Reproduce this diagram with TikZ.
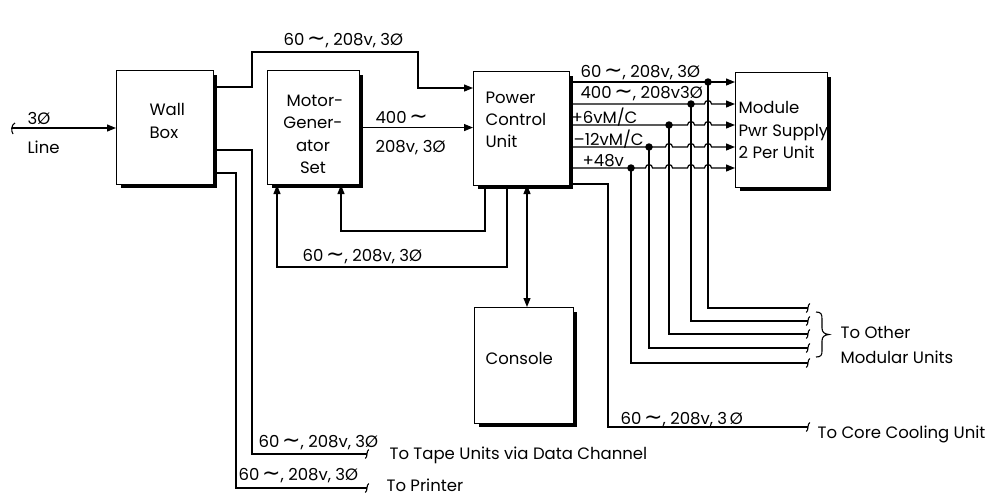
\documentclass[tikz,border=0pt]{standalone}
\usepackage{fontspec}
\setmainfont{Poppins}
\newfontfamily\symf{DejaVu Sans}
\usetikzlibrary{arrows.meta}
\newcommand{\cy}{\raisebox{-0.5pt}{\symf\fontsize{22}{22}\selectfont ∼}}
\begin{document}
\begin{tikzpicture}[x=1pt,y=-1pt,line width=1.2pt,
  >={Triangle[length=9pt,width=7pt]},
  box/.style={draw,line width=1.1pt,fill=white,anchor=north west,inner sep=0pt},
  shadowline/.style={line width=3pt},
  txt/.style={font=\fontsize{16.5}{18}\selectfont,inner sep=0pt,anchor=base west},
  ctxt/.style={txt,anchor=base},
  dot/.style={circle,fill=black,inner sep=0pt,minimum size=7.5pt},
  tail/.pic={\draw[line width=1.1pt] (1.8,-4.5) .. controls (-1,-3) and (1,3) .. (-1.8,4.5);}]
\useasboundingbox (0,0) rectangle (992,496);
% boxes
\node[box,minimum width=97pt,minimum height=114pt] (wall) at (116,70) {};
\node[box,minimum width=92pt,minimum height=114pt] (mg) at (267,70) {};
\node[box,minimum width=96pt,minimum height=114pt] (pcu) at (473,71) {};
\node[box,minimum width=92pt,minimum height=115pt] (mod) at (735,72) {};
\node[box,minimum width=99pt,minimum height=116pt] (con) at (474,307) {};
\draw[shadowline] ([shift={(1.8,5)}]wall.north east) -- ([shift={(1.8,1.8)}]wall.south east) -- ([shift={(5,1.8)}]wall.south west);
\draw[shadowline] ([shift={(1.8,5)}]mg.north east) -- ([shift={(1.8,1.8)}]mg.south east) -- ([shift={(5,1.8)}]mg.south west);
\draw[shadowline] ([shift={(1.8,5)}]pcu.north east) -- ([shift={(1.8,1.8)}]pcu.south east) -- ([shift={(5,1.8)}]pcu.south west);
\draw[shadowline] ([shift={(1.8,5)}]mod.north east) -- ([shift={(1.8,1.8)}]mod.south east) -- ([shift={(5,1.8)}]mod.south west);
\draw[shadowline] ([shift={(1.8,5)}]con.north east) -- ([shift={(1.8,1.8)}]con.south east) -- ([shift={(5,1.8)}]con.south west);
% box texts
\node[txt] (wt1) at (149,115) {Wall};
\node[txt] (wt2) at (149,138) {Box};
\node[ctxt] (mt1) at (315,106) {Motor-};
\node[ctxt] (mt2) at (313,128) {Gener-};
\node[ctxt] (mt3) at (313,151) {ator};
\node[ctxt] (mt4) at (313,173) {Set};
\node[txt] (pt1) at (485,103) {Power};
\node[txt] (pt2) at (485,125) {Control};
\node[txt] (pt3) at (485,147) {Unit};
\node[txt] (dt1) at (738,113) {Module};
\node[txt] (dt2) at (738,136) {Pwr Supply};
\node[txt] (dt3) at (738,158) {2 Per Unit};
\node[txt] (ct1) at (485,364) {Console};
% input line
\coordinate (lin) at (12,128);
\draw[->] (lin) -- (wall.west |- lin);
\draw[line width=1.1pt] (15,123) .. controls (11,125) and (11,131) .. (13,134);
\node[txt] (l3p) at (27,124) {3Ø};
\node[txt] (lline) at (27,153) {Line};
% wall box to PCU (top)
\coordinate (w1) at (213,87);
\coordinate (p1) at (473,88);
\draw[->] (w1) -- (252,87) -- (252,52) -- (418,52) -- (418,88) -- (p1);
\node[txt] (lt) at (283,45) {60\,\cy, 208v, 3Ø};
% MG to PCU
\draw[->] (mg.east) -- (mg.east -| pcu.west);
\node[txt] (l400) at (375,123) {400\,\cy};
\node[txt] (l208) at (375,152) {208v, 3Ø};
% PCU to MG loops
\coordinate (pa) at (485,185);
\coordinate (ma) at (341,185);
\draw[->] (pa) -- (485,231) -- (341,231) -- (ma);
\coordinate (pb) at (507,185);
\coordinate (mb) at (277,185);
\draw[->] (pb) -- (507,267) -- (277,267) -- (mb);
\node[txt] (lloop) at (302,261) {60\,\cy, 208v, 3Ø};
% PCU to console
\coordinate (pc) at (527,185);
\draw[<->] (pc) -- (pc |- con.north);
% wall box to tape / printer
\coordinate (w2) at (213,150);
\coordinate (tapeend) at (367,454);
\draw (w2) -- (252,150) -- (252,454) -- (tapeend);
\pic at (tapeend) {tail};
\node[txt] (ltape) at (258,447) {60\,\cy, 208v, 3Ø};
\node[txt] (ttape) at (389,459) {To Tape Units via Data Channel};
\coordinate (w3) at (213,173);
\coordinate (prend) at (367,488);
\draw (w3) -- (236,173) -- (236,488) -- (prend);
\pic at (prend) {tail};
\node[txt] (lpr) at (238,480) {60\,\cy, 208v, 3Ø};
\node[txt] (tpr) at (386,491) {To Printer};
% core cooling
\coordinate (pd) at (569,184);
\coordinate (coreend) at (808,427);
\draw (pd) -- (608,184) -- (608,427) -- (coreend);
\pic at (coreend) {tail};
\node[txt] (lcore) at (620,424) {60\,\cy, 208v, 3\,Ø};
\node[txt] (tcore) at (817,438) {To Core Cooling Unit};
% bus lines
\def\r{3.5}
\coordinate (b1s) at (569,82);  \coordinate (b1e) at (735,82);
\coordinate (b2s) at (569,104); \coordinate (b2e) at (735,104);
\coordinate (b3s) at (569,125); \coordinate (b3e) at (735,125);
\coordinate (b4s) at (569,147); \coordinate (b4e) at (735,147);
\coordinate (b5s) at (569,168); \coordinate (b5e) at (735,168);
\draw[->] (b1s) -- (b1e);
\draw[->] (b2s) -- (708-\r,104) arc (180:360:\r) -- (b2e);
\draw[->] (b3s) -- (691-\r,125) arc (180:360:\r) -- (708-\r,125) arc (180:360:\r) -- (b3e);
\draw[->] (b4s) -- (669-\r,147) arc (180:360:\r) -- (691-\r,147) arc (180:360:\r) -- (708-\r,147) arc (180:360:\r) -- (b4e);
\draw[->] (b5s) -- (649-\r,168) arc (180:360:\r) -- (669-\r,168) arc (180:360:\r) -- (691-\r,168) arc (180:360:\r) -- (708-\r,168) arc (180:360:\r) -- (b5e);
\node[dot] (d1) at (708,82) {};
\node[dot] (d2) at (691,104) {};
\node[dot] (d3) at (669,125) {};
\node[dot] (d4) at (649,147) {};
\node[dot] (d5) at (631,168) {};
\coordinate (e1) at (808,308);
\coordinate (e2) at (808,321);
\coordinate (e3) at (808,334);
\coordinate (e4) at (808,348);
\coordinate (e5) at (808,363);
\draw (d1.center) -- (708,308) -- (e1);
\draw (d2.center) -- (691,321) -- (e2);
\draw (d3.center) -- (669,334) -- (e3);
\draw (d4.center) -- (649,348) -- (e4);
\draw (d5.center) -- (631,363) -- (e5);
\foreach \e in {e1,e2,e3,e4,e5} {\pic at (\e) {tail};}
\node[txt] (lb1) at (580,77) {60\,\cy, 208v, 3Ø};
\node[txt] (lb2) at (580,98) {400\,\cy, 208v3Ø};
\node[txt] (lb3) at (571,123) {+6vM/C};
\node[txt] (lb4) at (573,145) {–12vM/C};
\node[txt] (lb5) at (582,166) {+48v};
% brace
\draw[line width=1.1pt] (816,312) .. controls (821,312) and (822,314) .. (822,319) -- (822,328) .. controls (822,332) and (824,334) .. (829,334.5) .. controls (824,335) and (822,337) .. (822,341) -- (822,351) .. controls (822,355) and (821,357) .. (816,357);
\node[txt] (to1) at (840,338) {To Other};
\node[txt] (to2) at (840,363) {Modular Units};
\end{tikzpicture}
\end{document}
